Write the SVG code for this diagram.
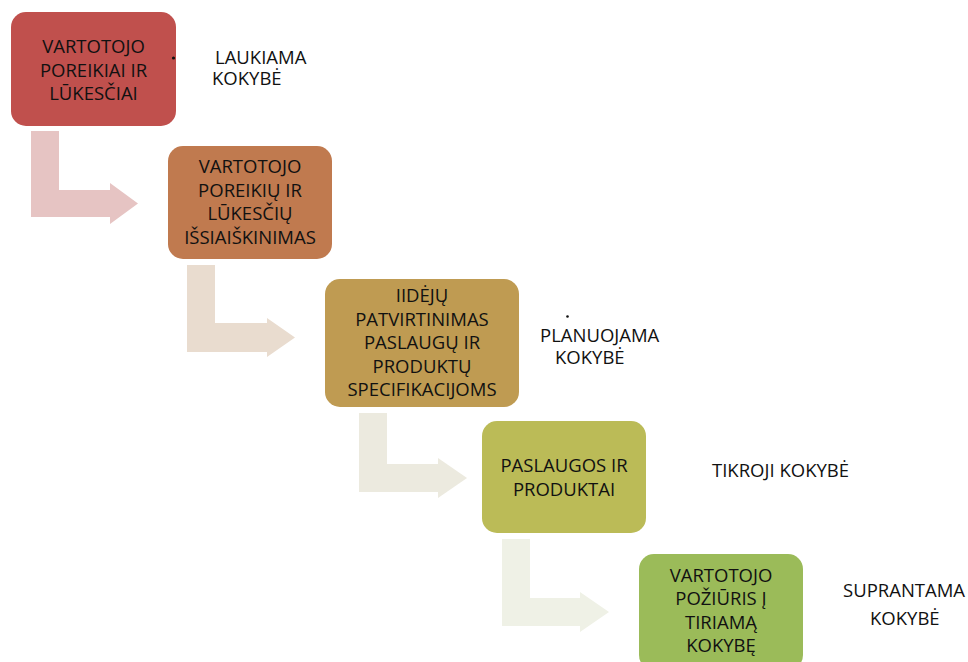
<svg xmlns="http://www.w3.org/2000/svg" width="968" height="662" viewBox="0 0 968 662">
  <style>
    .box text { font-family: "Open Sans", "Noto Sans", sans-serif; font-size: 18.5px; fill: #111; text-anchor: middle; }
    .lbl { font-family: "Open Sans", "Noto Sans", sans-serif; font-size: 18.5px; fill: #111; }
    .dot { fill: #111; }
  </style>
  <rect width="968" height="662" fill="#fff"/>

  <!-- bent arrows leading from one stage to the next -->
  <g id="connectors">
    <path fill="#E6C4C3" d="M31,131 H59 V190 H110 V183 L138,203.5 L110,224 V217 H31 Z"/>
    <path fill="#E9DCCF" d="M187,265 H215 V323 H267 V318 L295,337.5 L267,357 V352 H187 Z"/>
    <path fill="#ECEADF" d="M359,413 H387 V464 H438 V458 L467,478 L438,498 V492 H359 Z"/>
    <path fill="#EFF1E6" d="M502,539 H530 V598 H580 V592 L609,612 L580,632 V626 H502 Z"/>
  </g>

  <g id="n1" class="box">
    <rect x="11" y="12" width="165" height="114" rx="15" fill="#C0504D"/>
    <text x="93.5" y="53">VARTOTOJO</text>
    <text x="93.5" y="76.5">POREIKIAI IR</text>
    <text x="93.5" y="100">LŪKESČIAI</text>
  </g>

  <g id="n2" class="box">
    <rect x="168" y="146" width="164" height="113" rx="15" fill="#C07A4F"/>
    <text x="250" y="173">VARTOTOJO</text>
    <text x="250" y="196.5">POREIKIŲ IR</text>
    <text x="250" y="220">LŪKESČIŲ</text>
    <text x="250" y="243.5">IŠSIAIŠKINIMAS</text>
  </g>

  <g id="n3" class="box">
    <rect x="325" y="279" width="194" height="128" rx="15" fill="#BF9B52"/>
    <text x="422" y="302">IIDĖJŲ</text>
    <text x="422" y="325.5">PATVIRTINIMAS</text>
    <text x="422" y="349">PASLAUGŲ IR</text>
    <text x="422" y="372.5">PRODUKTŲ</text>
    <text x="422" y="396">SPECIFIKACIJOMS</text>
  </g>

  <g id="n4" class="box">
    <rect x="482" y="421" width="164" height="112" rx="15" fill="#BBBB57"/>
    <text x="564" y="472">PASLAUGOS IR</text>
    <text x="564" y="495.5">PRODUKTAI</text>
  </g>

  <g id="n5" class="box">
    <rect x="639" y="554" width="164" height="116" rx="15" fill="#9BBB59"/>
    <text x="721" y="582">VARTOTOJO</text>
    <text x="721" y="605">POŽIŪRIS Į</text>
    <text x="721" y="628.5">TIRIAMĄ</text>
    <text x="721" y="652">KOKYBĘ</text>
  </g>

  <!-- quality labels beside the stages -->
  <g id="q1">
    <circle class="dot" cx="173.5" cy="58" r="1.6"/>
    <text class="lbl" x="215" y="64">LAUKIAMA</text>
    <text class="lbl" x="212" y="84.5">KOKYBĖ</text>
  </g>
  <g id="q2">
    <circle class="dot" cx="567.5" cy="316.5" r="1.3"/>
    <text class="lbl" x="540" y="342">PLANUOJAMA</text>
    <text class="lbl" x="555" y="364">KOKYBĖ</text>
  </g>
  <g id="q3">
    <text class="lbl" x="712" y="477">TIKROJI KOKYBĖ</text>
  </g>
  <g id="q4">
    <text class="lbl" x="843" y="597">SUPRANTAMA</text>
    <text class="lbl" x="870" y="625">KOKYBĖ</text>
  </g>
</svg>
